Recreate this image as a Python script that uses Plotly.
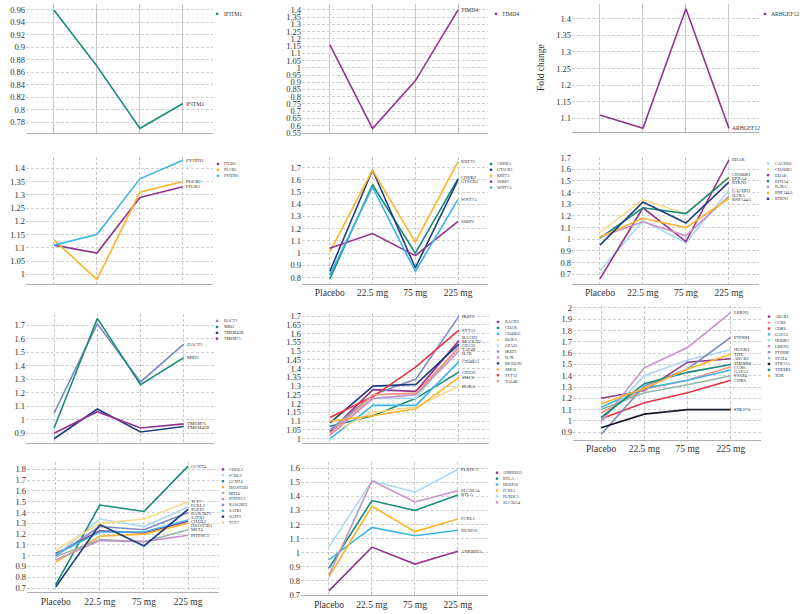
import plotly.graph_objects as go

CATEGORIES = ["Placebo", "22.5 mg", "75 mg", "225 mg"]

# ---- data (fold change per dose group) ----
P1_GENES = ["IFITM1"]
P1_VALUES = [[0.96, 0.87, 0.77, 0.81]]

P2_GENES = ["TIMD4"]
P2_VALUES = [[1.16, 0.58, 0.91, 1.40]]

P3_GENES = ["ARHGEF12"]
P3_VALUES = [[1.11, 1.07, 1.43, 1.07]]

P4_GENES = ["ITGB1", "PLCB1", "PYHIN1"]
P4_VALUES = [[1.11, 1.08, 1.29, 1.33],
             [1.13, 0.98, 1.31, 1.35],
             [1.11, 1.15, 1.36, 1.43]]

P5_GENES = ["CDHR3", "GTSCR1", "KRT73", "SSBP2", "WNT7A"]
P5_VALUES = [[0.79, 1.56, 1.00, 1.61],
             [0.85, 1.68, 0.88, 1.60],
             [1.01, 1.68, 1.09, 1.75],
             [1.04, 1.16, 0.98, 1.26],
             [0.82, 1.54, 0.85, 1.44]]

P6_GENES = ["CACHD1", "CD200R1", "EDAR", "EPHA4", "IL2RA", "RNF144A", "RTKN2"]
P6_VALUES = [[0.73, 1.16, 0.97, 1.42],
             [1.06, 1.34, 1.22, 1.54],
             [0.66, 1.27, 0.98, 1.68],
             [1.01, 1.27, 1.22, 1.53],
             [1.02, 1.15, 1.03, 1.37],
             [1.02, 1.18, 1.10, 1.35],
             [0.95, 1.32, 1.14, 1.49]]

P7_GENES = ["DACT1", "MID2", "TMEM45B", "TMEM71"]
P7_VALUES = [[1.05, 1.71, 1.28, 1.56],
             [0.94, 1.75, 1.26, 1.46],
             [0.86, 1.08, 0.91, 0.95],
             [0.90, 1.06, 0.94, 0.97]]

P8_GENES = ["BACH2", "CD226", "CD40LG", "DGKA", "GPA33", "IKZF2", "IL7R",
            "MCOLN2", "SMC6", "SYT12", "TAF4B"]
P8_VALUES = [[1.04, 1.28, 1.27, 1.56],
             [1.07, 1.13, 1.23, 1.38],
             [1.00, 1.19, 1.19, 1.44],
             [1.03, 1.15, 1.18, 1.30],
             [1.05, 1.23, 1.23, 1.53],
             [1.05, 1.25, 1.34, 1.70],
             [1.02, 1.23, 1.25, 1.50],
             [1.09, 1.30, 1.31, 1.54],
             [1.10, 1.13, 1.17, 1.35],
             [1.12, 1.24, 1.41, 1.62],
             [1.03, 1.25, 1.26, 1.52]]

P9_GENES = ["ABCB1", "CCR6", "CDK6", "GATA3", "HOOK1", "LRRN3", "PTPRM",
            "STAT4", "STK17A", "THEMIS", "TOX"]
P9_VALUES = [[1.20, 1.27, 1.52, 1.55],
             [1.07, 1.28, 1.36, 1.48],
             [1.02, 1.16, 1.25, 1.36],
             [1.12, 1.29, 1.36, 1.45],
             [1.00, 1.40, 1.54, 1.63],
             [0.99, 1.47, 1.65, 1.96],
             [0.88, 1.31, 1.46, 1.74],
             [1.10, 1.25, 1.32, 1.40],
             [0.94, 1.06, 1.10, 1.10],
             [1.03, 1.33, 1.43, 1.50],
             [1.15, 1.29, 1.46, 1.59]]

P10_GENES = ["CHI3L2", "FCRL3", "GCNT4", "HS3ST3B1", "MST4", "PITPNC1",
             "RASGRF2", "SATB1", "SGPP2", "TCF7"]
P10_VALUES = [[1.02, 1.23, 1.21, 1.32],
              [1.00, 1.34, 1.27, 1.45],
              [0.73, 1.47, 1.41, 1.83],
              [0.94, 1.18, 1.20, 1.30],
              [0.99, 1.15, 1.13, 1.24],
              [0.96, 1.14, 1.13, 1.19],
              [1.00, 1.27, 1.24, 1.40],
              [1.01, 1.22, 1.22, 1.33],
              [0.71, 1.29, 1.09, 1.43],
              [1.05, 1.30, 1.34, 1.50]]

P11_GENES = ["ANKRD55", "BTLA", "DUSP16", "FCRL1", "PLXDC1", "SLC30A4"]
P11_VALUES = [[0.73, 1.04, 0.92, 1.01],
              [0.89, 1.37, 1.30, 1.41],
              [0.95, 1.18, 1.12, 1.16],
              [0.83, 1.33, 1.15, 1.24],
              [1.04, 1.51, 1.43, 1.59],
              [0.84, 1.51, 1.36, 1.44]]

# ---- styles ----
PURPLE = "#93338e"; TEAL = "#168a78"; NAVY = "#1d3f7e"; ORANGE = "#fbb42b"
BLUE = "#3db5e8"; LBLUE = "#a9d8f2"; PEACH = "#fdd98c"; LPURPLE = "#c892c6"
SLATE = "#7d8cc0"; RED = "#e7353f"; SALMON = "#f1917f"; SAGE = "#93b8a6"
BLACK = "#141a28"

GENE_COLORS = {
    "IFITM1": TEAL, "TIMD4": PURPLE, "ARHGEF12": PURPLE,
    "ITGB1": PURPLE, "PLCB1": ORANGE, "PYHIN1": BLUE,
    "CDHR3": TEAL, "GTSCR1": NAVY, "KRT73": ORANGE, "SSBP2": PURPLE, "WNT7A": BLUE,
    "CACHD1": LBLUE, "CD200R1": PEACH, "EDAR": PURPLE, "EPHA4": TEAL,
    "IL2RA": LPURPLE, "RNF144A": ORANGE, "RTKN2": NAVY,
    "DACT1": SLATE, "MID2": TEAL, "TMEM45B": NAVY, "TMEM71": PURPLE,
    "BACH2": PURPLE, "CD226": TEAL, "CD40LG": BLUE, "DGKA": PEACH, "GPA33": LBLUE,
    "IKZF2": SLATE, "IL7R": LPURPLE, "MCOLN2": NAVY, "SMC6": ORANGE, "SYT12": RED,
    "TAF4B": SALMON,
    "ABCB1": PURPLE, "CCR6": SALMON, "CDK6": RED, "GATA3": BLUE, "HOOK1": LBLUE,
    "LRRN3": LPURPLE, "PTPRM": SLATE, "STAT4": SAGE, "STK17A": BLACK,
    "THEMIS": TEAL, "TOX": ORANGE,
    "CHI3L2": PURPLE, "FCRL3": LBLUE, "GCNT4": TEAL, "HS3ST3B1": ORANGE,
    "MST4": SAGE, "PITPNC1": LPURPLE, "RASGRF2": SLATE, "SATB1": BLUE,
    "SGPP2": NAVY, "TCF7": PEACH,
    "ANKRD55": PURPLE, "BTLA": TEAL, "DUSP16": BLUE, "FCRL1": ORANGE,
    "PLXDC1": LBLUE, "SLC30A4": LPURPLE,
}

W, H = 800, 614
FONT = "Liberation Serif, Times New Roman, Times, serif"
TXT = "#333333"
YTICK = 8.5
XTICK = 9.5

# panel layout: genes, values, x px, y px (top,bottom), y range, dtick,
# show x tick labels, solid vertical grid, legend (marker x, text x, first y),
# small-text sizes (legend, end label)
PANELS = [
    (P1_GENES, P1_VALUES, (26, 213), (0, 131), (0.7627, 0.9695), 0.02, False, True, (217, 221.5, 10), (5.6, 5.6)),
    (P2_GENES, P2_VALUES, (302, 488), (0, 131), (0.549, 1.4407), 0.05, False, True, (496, 500, 10), (5.6, 5.6)),
    (P3_GENES, P3_VALUES, (572, 759), (0, 130), (1.0584, 1.4446), 0.05, False, True, (765, 769, 10), (5.6, 5.6)),
    (P4_GENES, P4_VALUES, (26, 213), (155, 284), (0.964, 1.4435), 0.05, False, False, (218, 222, 162.3), (4.2, 5.0)),
    (P5_GENES, P5_VALUES, (302, 488), (155, 284), (0.749, 1.789), 0.1, True, False, (491, 495, 162.3), (4.2, 4.6)),
    (P6_GENES, P6_VALUES, (572, 759), (155, 284), (0.618, 1.708), 0.1, True, False, (768, 772.5, 161.7), (4.2, 4.6)),
    (P7_GENES, P7_VALUES, (26, 214), (315, 446), (0.825, 1.780), 0.1, False, False, (217, 222, 321.7), (4.2, 4.8)),
    (P8_GENES, P8_VALUES, (302, 489), (315, 446), (0.972, 1.71), 0.05, False, False, (498, 502.5, 322.7), (4.2, 4.6)),
    (P9_GENES, P9_VALUES, (573, 761), (306, 442), (0.835, 2.022), 0.1, True, False, (769, 773.3, 317.3), (4.2, 4.6)),
    (P10_GENES, P10_VALUES, (27, 219), (465, 597), (0.661, 1.867), 0.1, True, False, (223, 227, 472.3), (4.2, 4.6)),
    (P11_GENES, P11_VALUES, (301, 488), (465, 600), (0.699, 1.642), 0.1, True, False, (497, 500.7, 475.7), (4.2, 4.6)),
]
X_RANGE = [-0.65, 3.7]
LEG_STEP = 6.0
LABEL_GAP = 4.0  # min vertical spacing (px) between end labels


def spread_labels(vals, yr, top, bottom):
    """Return label y values (data units) nudged apart so they don't overlap."""
    scale = (bottom - top) / (yr[1] - yr[0])
    px = [top + (yr[1] - v) * scale for v in vals]
    order = sorted(range(len(px)), key=lambda i: px[i])
    pos = [px[i] for i in order]
    for _ in range(300):
        moved = False
        for a in range(len(pos) - 1):
            d = pos[a + 1] - pos[a]
            if d < LABEL_GAP - 1e-6:
                shift = (LABEL_GAP - d) / 2
                pos[a] -= shift
                pos[a + 1] += shift
                moved = True
        if not moved:
            break
    out = [0.0] * len(px)
    for k, i in enumerate(order):
        out[i] = yr[1] - (pos[k] - top) / scale
    return out


fig = go.Figure()
annotations = []
shapes = []

for i, (genes, values, xpx, ypx, yr, dt, showx, solid, leg, sizes) in enumerate(PANELS):
    k = "" if i == 0 else str(i + 1)
    leg_size, lab_size = sizes
    for g, v in zip(genes, values):
        fig.add_trace(go.Scatter(
            x=CATEGORIES, y=v, mode="lines",
            line=dict(color=GENE_COLORS[g], width=1.6),
            xaxis="x" + k, yaxis="y" + k, showlegend=False,
            hoverinfo="x+y+name", name=g))
    # end-of-line labels
    last = [v[-1] for v in values]
    ly = spread_labels(last, yr, ypx[0], ypx[1])
    for g, yv in zip(genes, ly):
        annotations.append(dict(xref="x" + k, yref="y" + k, x=CATEGORIES[-1], y=yv,
                                xanchor="left", yanchor="middle", xshift=1,
                                text=g, showarrow=False,
                                font=dict(size=lab_size, color=TXT, family=FONT)))
    fig.layout["xaxis" + k] = dict(
        domain=[xpx[0] / W, xpx[1] / W], anchor="y" + k, type="category",
        categoryorder="array", categoryarray=CATEGORIES, range=X_RANGE,
        showgrid=True, gridcolor="#c9c9c9", gridwidth=1,
        griddash="solid" if solid else "3px,2px",
        showline=True, linecolor="#b0b0b0", linewidth=1, ticks="",
        showticklabels=showx, ticklabelstandoff=0,
        tickfont=dict(size=XTICK, color=TXT, family=FONT),
        zeroline=False, fixedrange=True)
    fig.layout["yaxis" + k] = dict(
        domain=[1 - ypx[1] / H, 1 - ypx[0] / H], anchor="x" + k,
        range=list(yr), dtick=dt, tick0=0, showgrid=True, gridcolor="#cfcfcf",
        griddash="3px,2px", gridwidth=1, zeroline=False, showline=False, ticks="",
        tickfont=dict(size=YTICK, color=TXT, family=FONT), fixedrange=True)
    # per-panel legend
    mx, tx, y0 = leg
    for j, g in enumerate(genes):
        yy = y0 + j * LEG_STEP
        shapes.append(dict(type="rect", xref="paper", yref="paper",
                           x0=(mx - 1.2) / W, x1=(mx + 1.2) / W,
                           y0=1 - (yy + 1.2) / H, y1=1 - (yy - 1.2) / H,
                           fillcolor=GENE_COLORS[g], line=dict(width=0)))
        annotations.append(dict(xref="paper", yref="paper", x=tx / W, y=1 - yy / H,
                                xanchor="left", yanchor="middle", text=g,
                                showarrow=False,
                                font=dict(size=leg_size, color=TXT, family=FONT)))

annotations.append(dict(xref="paper", yref="paper", x=541 / W, y=1 - 65 / H,
                        text="Fold change", textangle=-90, showarrow=False,
                        xanchor="center", yanchor="middle",
                        font=dict(size=9.5, color=TXT, family=FONT)))

fig.update_layout(width=W, height=H, margin=dict(l=0, r=0, t=0, b=0),
                  paper_bgcolor="white", plot_bgcolor="white",
                  font=dict(family=FONT, color=TXT),
                  annotations=annotations, shapes=shapes, showlegend=False)

fig.write_html("out.html", config={"displayModeBar": False},
               post_script="document.body.style.margin='0';"
                           "document.body.style.overflow='hidden';")
